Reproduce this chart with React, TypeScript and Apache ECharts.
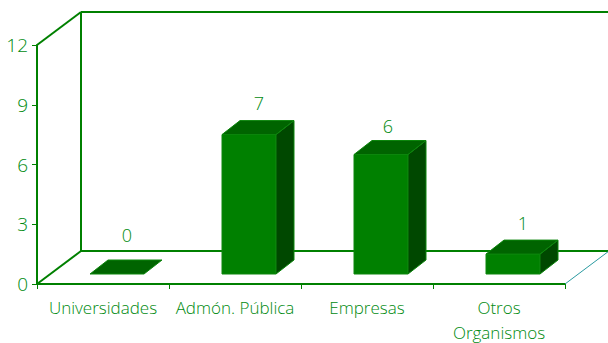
import React, { useEffect, useRef } from "react";
import * as echarts from "echarts";

const categories = ["Universidades", "Admón. Pública", "Empresas", "Otros\nOrganismos"];
const values = [0, 7, 6, 1];
const yTicks = { min: 0, max: 12, interval: 3 };

const GREEN = "#008000";
const TEXT = "#008a10";
const FONT = "'Open Sans'";
const DX = 44;
const DY = 33;
const BAR_W = 54;
const BAR_SHIFT = 14;
const BAR_LIFT = 10;
const BAR_DX = 18;
const BAR_DY = 14;
const LABEL_NUDGE = [[0, -9], [0, -2], [-3, 1], [0, -1]];

export default function App() {
  const ref = useRef<HTMLDivElement>(null);
  useEffect(() => {
    const chart = echarts.init(ref.current!, null, { renderer: "svg" });
    const line = (x1: number, y1: number, x2: number, y2: number, color = GREEN, w = 2) => ({
      type: "line",
      shape: { x1, y1, x2, y2 },
      style: { stroke: color, lineWidth: w },
    });
    chart.setOption({
      animation: false,
      grid: { left: 37, right: 43, top: 45, bottom: 59, outerBoundsMode: "none" },
      xAxis: {
        type: "category",
        data: categories,
        boundaryGap: true,
        axisLine: { show: true, lineStyle: { color: GREEN, width: 2 } },
        axisTick: { show: true, length: 5, alignWithLabel: false, lineStyle: { color: GREEN, width: 1 } },
        axisLabel: { color: TEXT, fontFamily: FONT, fontWeight: 300, fontSize: 17, lineHeight: 25, margin: 11, interval: 0 },
        splitLine: { show: false },
      },
      yAxis: {
        type: "value",
        min: yTicks.min,
        max: yTicks.max,
        interval: yTicks.interval,
        axisLine: { show: true, lineStyle: { color: GREEN, width: 2 } },
        axisTick: { show: true, length: 5, lineStyle: { color: GREEN, width: 1 } },
        axisLabel: { color: TEXT, fontFamily: FONT, fontWeight: 300, fontSize: 19, margin: 9, padding: [2, 0, 0, 0] },
        splitLine: { show: false },
      },
      series: [
        {
          type: "custom",
          silent: true,
          z: 1,
          clip: false,
          data: [[0, 0]],
          renderItem: (_p: any, api: any) => {
            const [, y0] = api.coord([0, yTicks.min]);
            const [, yT] = api.coord([0, yTicks.max]);
            const band = api.coord([1, 0])[0] - api.coord([0, 0])[0];
            const left = api.coord([0, 0])[0] - band / 2;
            const right = left + band * categories.length;
            return {
              type: "group",
              children: [
                line(left, yT, left + DX, yT - DY),
                line(left + DX, yT - DY, left + DX, y0 - DY),
                line(left + DX, yT - DY, right + DX, yT - DY),
                line(left, y0, left + DX, y0 - DY),
                line(left + DX, y0 - DY, right + DX, y0 - DY),
                line(right, y0, right + DX, y0 - DY, "#2a9aa0", 1),
              ],
            };
          },
        },
        {
          type: "custom",
          silent: true,
          z: 3,
          clip: false,
          data: values.map((v, i) => [i, v]),
          renderItem: (_p: any, api: any) => {
            const i = api.value(0);
            const v = api.value(1);
            const [cx, yBase] = api.coord([i, 0]);
            const [, yTop] = api.coord([i, v]);
            const l = cx + BAR_SHIFT - BAR_W / 2;
            const r = l + BAR_W;
            const b = yBase - BAR_LIFT;
            const t = yTop - BAR_LIFT;
            const poly = (points: number[][], fill: string) => ({
              type: "polygon",
              shape: { points },
              style: { fill, stroke: "#0c860c", lineWidth: 1 },
            });
            const children: any[] = [];
            if (v > 0) {
              children.push(poly([[l, t], [r, t], [r, b], [l, b]], GREEN));
              children.push(poly([[r, t], [r + BAR_DX, t - BAR_DY], [r + BAR_DX, b - BAR_DY], [r, b]], "#004800"));
            }
            children.push(poly([[l, t], [r, t], [r + BAR_DX, t - BAR_DY], [l + BAR_DX, t - BAR_DY]], "#006400"));
            children.push({
              type: "text",
              style: {
                x: cx + BAR_SHIFT + 10 + LABEL_NUDGE[i][0],
                y: t - BAR_DY - 7 + LABEL_NUDGE[i][1],
                text: String(v),
                fill: TEXT,
                font: `300 18px ${FONT}`,
                align: "center",
                verticalAlign: "bottom",
              },
            });
            return { type: "group", children };
          },
        },
      ],
    });
    return () => chart.dispose();
  }, []);
  return <div ref={ref} style={{ position: "absolute", left: 0, top: 0, width: 608, height: 343 }} />;
}
